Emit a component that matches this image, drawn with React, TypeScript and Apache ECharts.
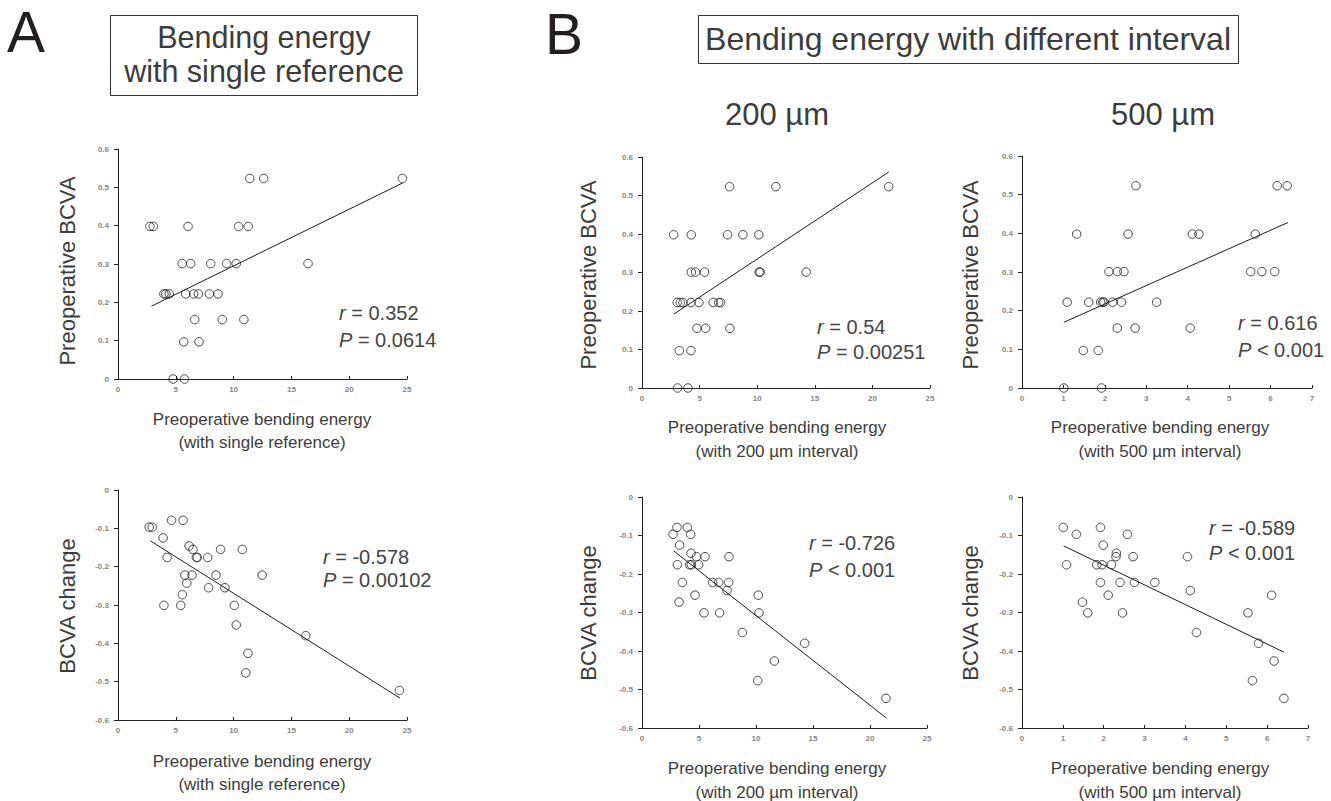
import React, { useEffect, useRef } from 'react';
import * as echarts from 'echarts';

const FONT = '"Liberation Sans", Arial, Helvetica, sans-serif';

// Panel A top: Preoperative bending energy (single reference) vs Preoperative BCVA
const aTopX = [2.76, 3.05, 11.4, 12.6, 24.6, 6.06, 10.43, 11.26, 5.55, 6.29, 8.02, 9.4, 10.23, 16.44, 3.97, 4.14, 4.43, 5.86, 6.55, 6.95, 7.9, 8.65, 6.64, 9.02, 10.89, 5.69, 7.01, 4.77, 5.75];
const aTopY = [0.398, 0.398, 0.523, 0.523, 0.523, 0.398, 0.398, 0.398, 0.301, 0.301, 0.301, 0.301, 0.301, 0.301, 0.222, 0.222, 0.222, 0.222, 0.222, 0.222, 0.222, 0.222, 0.155, 0.155, 0.155, 0.097, 0.097, 0, 0];

// Panel A bottom: bending energy (single reference) vs BCVA change
const aBotX = [2.7, 2.96, 4.63, 5.63, 3.9, 6.15, 6.49, 6.78, 6.87, 7.76, 8.88, 10.75, 4.25, 5.78, 6.41, 8.48, 12.47, 5.95, 7.84, 9.25, 5.57, 3.97, 5.43, 10.06, 10.23, 16.24, 11.24, 11.06, 24.34];
const aBotY = [-0.097, -0.097, -0.079, -0.079, -0.125, -0.146, -0.155, -0.176, -0.176, -0.176, -0.155, -0.155, -0.176, -0.222, -0.222, -0.222, -0.222, -0.243, -0.255, -0.255, -0.273, -0.301, -0.301, -0.301, -0.352, -0.38, -0.426, -0.477, -0.523];

// Panel B 200 µm top
const b200TopX = [7.6, 11.62, 21.42, 2.75, 4.28, 7.43, 8.76, 10.14, 4.28, 4.65, 5.43, 10.17, 10.26, 14.25, 3.06, 3.32, 3.55, 4.25, 4.94, 6.18, 6.65, 6.82, 4.77, 5.52, 7.63, 3.24, 4.25, 3.09, 3.99];
const b200TopY = [0.523, 0.523, 0.523, 0.398, 0.398, 0.398, 0.398, 0.398, 0.301, 0.301, 0.301, 0.301, 0.301, 0.301, 0.222, 0.222, 0.222, 0.222, 0.222, 0.222, 0.222, 0.222, 0.155, 0.155, 0.155, 0.097, 0.097, 0, 0];

// Panel B 200 µm bottom
const b200BotX = [2.72, 3.07, 3.98, 4.27, 3.3, 4.3, 4.77, 5.53, 7.63, 3.1, 4.18, 4.33, 4.97, 3.54, 6.2, 6.73, 7.6, 7.46, 4.65, 10.2, 3.25, 5.44, 6.81, 10.26, 8.8, 14.27, 11.61, 10.15, 21.4];
const b200BotY = [-0.097, -0.079, -0.079, -0.097, -0.125, -0.146, -0.155, -0.155, -0.155, -0.176, -0.176, -0.176, -0.176, -0.222, -0.222, -0.222, -0.222, -0.243, -0.255, -0.255, -0.273, -0.301, -0.301, -0.301, -0.352, -0.38, -0.426, -0.477, -0.523];

// Panel B 500 µm top
const b500TopX = [2.75, 6.16, 6.4, 1.32, 2.56, 4.11, 4.27, 5.63, 2.1, 2.3, 2.46, 5.52, 5.79, 6.1, 1.09, 1.61, 1.9, 1.95, 1.98, 2.19, 2.4, 3.25, 2.3, 2.73, 4.06, 1.48, 1.84, 1.01, 1.92];
const b500TopY = [0.523, 0.523, 0.523, 0.398, 0.398, 0.398, 0.398, 0.398, 0.301, 0.301, 0.301, 0.301, 0.301, 0.301, 0.222, 0.222, 0.222, 0.222, 0.222, 0.222, 0.222, 0.222, 0.155, 0.155, 0.155, 0.097, 0.097, 0, 0];

// Panel B 500 µm bottom
const b500BotX = [1.01, 1.92, 1.33, 2.58, 1.99, 2.31, 2.3, 2.72, 4.05, 1.09, 1.83, 1.96, 2.19, 1.92, 2.4, 2.75, 3.25, 4.12, 2.11, 6.11, 1.48, 1.61, 2.46, 5.53, 4.27, 5.79, 6.17, 5.64, 6.41];
const b500BotY = [-0.079, -0.079, -0.097, -0.097, -0.125, -0.146, -0.155, -0.155, -0.155, -0.176, -0.176, -0.176, -0.176, -0.222, -0.222, -0.222, -0.222, -0.243, -0.255, -0.255, -0.273, -0.301, -0.301, -0.301, -0.352, -0.38, -0.426, -0.477, -0.523];

// Regression line end points
const trendATop = [[2.9, 0.19], [24.6, 0.511]];
const trendABot = [[2.82, -0.133], [24.4, -0.543]];
const trend200Top = [[2.77, 0.192], [21.42, 0.561]];
const trend200Bot = [[2.78, -0.14], [21.43, -0.574]];
const trend500Top = [[1.01, 0.17], [6.42, 0.428]];
const trend500Bot = [[1.02, -0.127], [6.41, -0.403]];

// Statistics
const statR = ['0.352', '-0.578', '0.54', '-0.726', '0.616', '-0.589'];
const statP = ['= 0.0614', '= 0.00102', '= 0.00251', '< 0.001', '< 0.001', '< 0.001'];

const yNames = ['Preoperative BCVA', 'BCVA change', 'Preoperative BCVA', 'BCVA change', 'Preoperative BCVA', 'BCVA change'];
const xNameLine1 = 'Preoperative bending energy';
const xNameLine2 = ['(with single reference)', '(with single reference)', '(with 200 µm interval)', '(with 200 µm interval)', '(with 500 µm interval)', '(with 500 µm interval)'];

const panels = [
  { grid: { left: 118, top: 149, width: 289, height: 230 }, xMax: 25, xInt: 5, yMin: 0, yMax: 0.6, xs: aTopX, ys: aTopY, trend: trendATop, yName: [67, 271], xName: [262, 419, 442], stat: [339, 313, 340] },
  { grid: { left: 118, top: 490, width: 289, height: 230 }, xMax: 25, xInt: 5, yMin: -0.6, yMax: 0, xs: aBotX, ys: aBotY, trend: trendABot, yName: [67, 606], xName: [262, 761, 784], stat: [323, 557, 580] },
  { grid: { left: 642, top: 157, width: 288, height: 231 }, xMax: 25, xInt: 5, yMin: 0, yMax: 0.6, xs: b200TopX, ys: b200TopY, trend: trend200Top, yName: [588, 275], xName: [777, 427, 451], stat: [817, 327, 352] },
  { grid: { left: 642, top: 497, width: 285, height: 231 }, xMax: 25, xInt: 5, yMin: -0.6, yMax: 0, xs: b200BotX, ys: b200BotY, trend: trend200Bot, yName: [588, 613], xName: [777, 768, 792], stat: [809, 543, 570] },
  { grid: { left: 1022, top: 156, width: 290, height: 232 }, xMax: 7, xInt: 1, yMin: 0, yMax: 0.6, xs: b500TopX, ys: b500TopY, trend: trend500Top, yName: [970, 275], xName: [1160, 427, 451], stat: [1238, 323, 350] },
  { grid: { left: 1022, top: 497, width: 286, height: 231 }, xMax: 7, xInt: 1, yMin: -0.6, yMax: 0, xs: b500BotX, ys: b500BotY, trend: trend500Bot, yName: [970, 613], xName: [1160, 768, 792], stat: [1209, 528, 553] },
];

const AXIS_COLOR = '#222';
const LABEL_COLOR = '#858585';
const TEXT_COLOR = '#3c3c3c';

export default function App() {
  const ref = useRef<HTMLDivElement>(null);

  useEffect(() => {
    if (!ref.current) return;
    const chart = echarts.init(ref.current, undefined, { renderer: 'svg' });

    const grid = panels.map((p) => ({ ...p.grid, containLabel: false }));
    const xAxis = panels.map((p, i) => ({
      type: 'value',
      gridIndex: i,
      min: 0,
      max: p.xMax,
      interval: p.xInt,
      axisLine: { show: true, onZero: false, lineStyle: { color: AXIS_COLOR, width: 1 } },
      axisTick: { show: true, inside: true, length: 3, lineStyle: { color: AXIS_COLOR, width: 1 } },
      axisLabel: { color: LABEL_COLOR, fontSize: 8, fontWeight: 'bold', fontFamily: FONT, margin: 6 },
      splitLine: { show: false },
    }));
    const yAxis = panels.map((p, i) => ({
      type: 'value',
      gridIndex: i,
      min: p.yMin,
      max: p.yMax,
      interval: 0.1,
      axisLine: { show: true, onZero: false, lineStyle: { color: AXIS_COLOR, width: 1 } },
      axisTick: { show: true, inside: false, length: 4, lineStyle: { color: AXIS_COLOR, width: 1 } },
      axisLabel: {
        color: LABEL_COLOR, fontSize: 8, fontWeight: 'bold', fontFamily: FONT, margin: 9,
        formatter: (v: number) => String(Math.round(v * 10) / 10),
      },
      splitLine: { show: false },
    }));

    const series: any[] = [];
    panels.forEach((p, i) => {
      series.push({
        type: 'line',
        xAxisIndex: i,
        yAxisIndex: i,
        data: p.trend,
        symbol: 'none',
        showSymbol: false,
        silent: true,
        lineStyle: { color: '#1a1a1a', width: 1 },
        z: 2,
      });
      series.push({
        type: 'scatter',
        xAxisIndex: i,
        yAxisIndex: i,
        data: p.xs.map((x, j) => [x, p.ys[j]]),
        symbol: 'circle',
        symbolSize: 8.5,
        silent: true,
        itemStyle: { color: 'rgba(255,255,255,0)', borderColor: '#1a1a1a', borderWidth: 1 },
        z: 3,
      });
    });

    const graphic: any[] = [
      { type: 'text', x: 7, y: 32, style: { text: 'A', fontSize: 57, fontFamily: FONT, fill: '#231f20', align: 'left', verticalAlign: 'middle' } },
      { type: 'text', x: 545, y: 34, style: { text: 'B', fontSize: 57, fontFamily: FONT, fill: '#231f20', align: 'left', verticalAlign: 'middle' } },
      { type: 'rect', shape: { x: 110.5, y: 15.5, width: 307, height: 80 }, style: { fill: 'none', stroke: '#333', lineWidth: 1 } },
      { type: 'text', x: 264, y: 37, style: { text: 'Bending energy', fontSize: 30.5, fontFamily: FONT, fill: TEXT_COLOR, align: 'center', verticalAlign: 'middle' } },
      { type: 'text', x: 264, y: 71, style: { text: 'with single reference', fontSize: 30.5, fontFamily: FONT, fill: TEXT_COLOR, align: 'center', verticalAlign: 'middle' } },
      { type: 'rect', shape: { x: 698.5, y: 15.5, width: 540, height: 48 }, style: { fill: 'none', stroke: '#333', lineWidth: 1 } },
      { type: 'text', x: 968, y: 39, style: { text: 'Bending energy with different interval', fontSize: 32, fontFamily: FONT, fill: TEXT_COLOR, align: 'center', verticalAlign: 'middle' } },
      { type: 'text', x: 777, y: 114, style: { text: '200 µm', fontSize: 31, fontFamily: FONT, fill: TEXT_COLOR, align: 'center', verticalAlign: 'middle' } },
      { type: 'text', x: 1163, y: 114, style: { text: '500 µm', fontSize: 31, fontFamily: FONT, fill: TEXT_COLOR, align: 'center', verticalAlign: 'middle' } },
    ];

    panels.forEach((p, i) => {
      graphic.push({
        type: 'text', x: p.yName[0], y: p.yName[1], rotation: Math.PI / 2,
        style: { text: yNames[i], fontSize: 22, fontFamily: FONT, fill: TEXT_COLOR, align: 'center', verticalAlign: 'middle' },
      });
      graphic.push({
        type: 'text', x: p.xName[0], y: p.xName[1],
        style: { text: xNameLine1, fontSize: 17, fontFamily: FONT, fill: TEXT_COLOR, align: 'center', verticalAlign: 'middle' },
      });
      graphic.push({
        type: 'text', x: p.xName[0], y: p.xName[2],
        style: { text: xNameLine2[i], fontSize: 17, fontFamily: FONT, fill: TEXT_COLOR, align: 'center', verticalAlign: 'middle' },
      });
      graphic.push({
        type: 'text', x: p.stat[0], y: p.stat[1],
        style: {
          text: '{i|r} = ' + statR[i], fontSize: 20, fontFamily: FONT, fill: '#444', align: 'left', verticalAlign: 'middle',
          rich: { i: { fontStyle: 'italic', fontSize: 20, fontFamily: FONT, fill: '#444' } },
        },
      });
      graphic.push({
        type: 'text', x: p.stat[0], y: p.stat[2],
        style: {
          text: '{i|P} ' + statP[i], fontSize: 20, fontFamily: FONT, fill: '#444', align: 'left', verticalAlign: 'middle',
          rich: { i: { fontStyle: 'italic', fontSize: 20, fontFamily: FONT, fill: '#444' } },
        },
      });
    });

    chart.setOption({
      animation: false,
      backgroundColor: '#ffffff',
      textStyle: { fontFamily: FONT },
      grid,
      xAxis,
      yAxis,
      series,
      graphic,
    });

    return () => chart.dispose();
  }, []);

  return <div ref={ref} style={{ position: 'absolute', left: 0, top: 0, width: 1331, height: 801 }} />;
}
